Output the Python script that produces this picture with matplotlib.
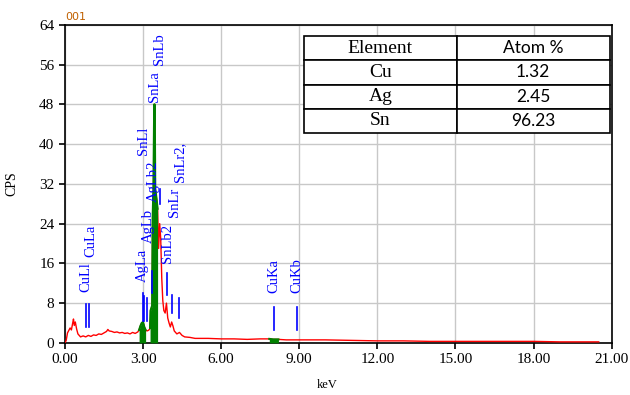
import numpy as np
import matplotlib.pyplot as plt

# spectrum (keV, CPS)
energy = [0.00, 0.05, 0.10, 0.15, 0.20, 0.25, 0.30, 0.33, 0.36, 0.40, 0.45, 0.50,
          0.55, 0.60, 0.70, 0.80, 0.90, 1.00, 1.10, 1.20, 1.30, 1.40, 1.50, 1.60,
          1.65, 1.70, 1.80, 1.90, 2.00, 2.10, 2.20, 2.30, 2.40, 2.50, 2.60, 2.70,
          2.80, 2.85, 2.90, 2.95, 3.00, 3.05, 3.10, 3.15, 3.20, 3.25, 3.27, 3.29,
          3.35, 3.37, 3.40, 3.43, 3.45, 3.47, 3.52, 3.56, 3.60, 3.64, 3.68, 3.72,
          3.76, 3.80, 3.85, 3.90, 3.95, 4.00, 4.05, 4.10, 4.15, 4.20, 4.30, 4.40,
          4.50, 4.60, 4.80, 5.00, 5.50, 6.00, 6.50, 7.00, 7.50, 7.85, 8.00, 8.20,
          8.50, 9.00, 10.0, 11.0, 12.0, 13.0, 14.0, 15.0, 16.0, 17.0, 18.0, 19.0,
          20.0, 20.5]
cps = [0.0, 0.5, 2.0, 2.5, 3.0, 2.6, 4.0, 4.8, 3.5, 4.2, 2.8, 1.8,
       1.5, 1.2, 1.4, 1.2, 1.5, 1.3, 1.6, 1.5, 1.8, 1.7, 2.0, 2.3,
       2.7, 2.4, 2.3, 2.1, 2.2, 2.0, 2.1, 1.9, 2.0, 1.8, 2.1, 1.9,
       2.2, 2.6, 3.4, 4.0, 4.2, 3.2, 2.6, 2.4, 2.5, 2.7, 3.0, 6.5,
       7.5, 25.0, 31.0, 48.0, 48.0, 31.0, 29.0, 27.0, 19.0, 24.0, 21.0, 13.0,
       8.5, 6.5, 6.0, 8.0, 5.0, 4.0, 3.2, 4.2, 3.4, 2.4, 1.8, 2.1,
       1.5, 1.2, 1.1, 0.9, 0.9, 0.8, 0.8, 0.7, 0.8, 0.8, 0.7, 0.7,
       0.6, 0.6, 0.6, 0.5, 0.4, 0.4, 0.3, 0.3, 0.3, 0.3, 0.3, 0.2,
       0.2, 0.2]

# regions of interest shaded green
roi = [(2.84, 3.12), (3.27, 3.56), (7.85, 8.20)]

# element line markers: name, energy, marker bottom/top, label x, label bottom
line_names = ['CuLl', 'CuLa', 'AgLa', 'AgLb', 'AgLb2', 'SnLl', 'SnLa', 'SnLb',
              'SnLb2', 'SnLr', 'SnLr2,', 'CuKa', 'CuKb']
line_kev = [0.811, 0.930, 2.984, 3.151, 3.348, 3.045, 3.444, 3.663,
            3.905, 4.131, 4.376, 8.040, 8.905]
line_lo = [3.2, 3.2, 4.5, 4.5, 10.0, 4.5, 0, 28.0, 9.7, 6.0, 5.0, 2.6, 2.6]
line_hi = [7.8, 7.8, 10.0, 9.0, 14.5, 9.5, 0, 31.0, 14.0, 9.7, 9.0, 7.2, 7.2]
label_x = [0.81, 0.98, 2.96, 3.19, 3.40, 3.00, 3.46, 3.65, 3.95, 4.22, 4.41, 8.02, 8.90]
label_y = [10.3, 17.3, 12.3, 20.0, 28.4, 37.8, 48.5, 56.0, 16.1, 25.4, 32.4, 10.0, 10.0]

# composition table
elements = ['Cu', 'Ag', 'Sn']
atom_pct = ['1.32', '2.45', '96.23']

serif = 'Liberation Serif'

fig = plt.figure(figsize=(6.3, 3.95), dpi=100)
ax = fig.add_axes([0.103, 0.132, 0.868, 0.805])

e = np.array(energy)
c = np.array(cps)
ax.plot(e, c, color='red', lw=1.0, zorder=3)
for lo, hi in roi:
    m = (e >= lo) & (e <= hi)
    ax.fill_between(e[m], 0, c[m], color='green', lw=0, zorder=4)
    ax.plot(e[m], c[m], color='green', lw=1.5, zorder=4)

for i in range(len(line_names)):
    if line_hi[i] > 0:
        ax.plot([line_kev[i], line_kev[i]], [line_lo[i], line_hi[i]],
                color='blue', lw=1.2, zorder=5)
    ax.text(label_x[i], label_y[i], line_names[i], rotation=90, color='blue',
            ha='center', va='bottom', fontsize=10.5, family=serif, zorder=6)

ax.set_xlim(0, 21)
ax.set_ylim(0, 64)
ax.set_xticks(np.arange(0, 22, 3))
ax.set_xticklabels(['%.2f' % v for v in np.arange(0, 22, 3)])
ax.set_yticks(np.arange(0, 65, 8))
ax.grid(color='#c8c8c8', lw=1.0)
ax.set_axisbelow(True)
for s in ax.spines.values():
    s.set_linewidth(1.2)
ax.tick_params(direction='out', length=4, width=1.2, labelsize=11)
for lab in ax.get_xticklabels() + ax.get_yticklabels():
    lab.set_family(serif)
ax.set_xlabel('keV', family=serif, fontsize=9, labelpad=4)
ax.xaxis.set_label_coords(0.48, -0.115)
ax.set_ylabel('CPS', family=serif, fontsize=10)
ax.yaxis.set_label_coords(-0.085, 0.5)
ax.text(0.0, 1.01, '001', transform=ax.transAxes, fontsize=8,
        color='#c06000', va='bottom', ha='left')

# table in the upper right
tab = ax.table(cellText=[[el, v] for el, v in zip(elements, atom_pct)],
               colLabels=['Element', 'Atom %'], cellLoc='center',
               bbox=[0.437, 0.66, 0.559, 0.305], zorder=10)
tab.auto_set_font_size(False)
for (r, col), cell in tab.get_celld().items():
    cell.set_linewidth(1.2)
    cell.set_facecolor('white')
    if col == 0:
        cell.get_text().set_family(serif)
        cell.get_text().set_fontsize(14)
    else:
        cell.get_text().set_family('Lato')
        cell.get_text().set_fontsize(12.5)

fig.savefig('out.png', dpi=100)
